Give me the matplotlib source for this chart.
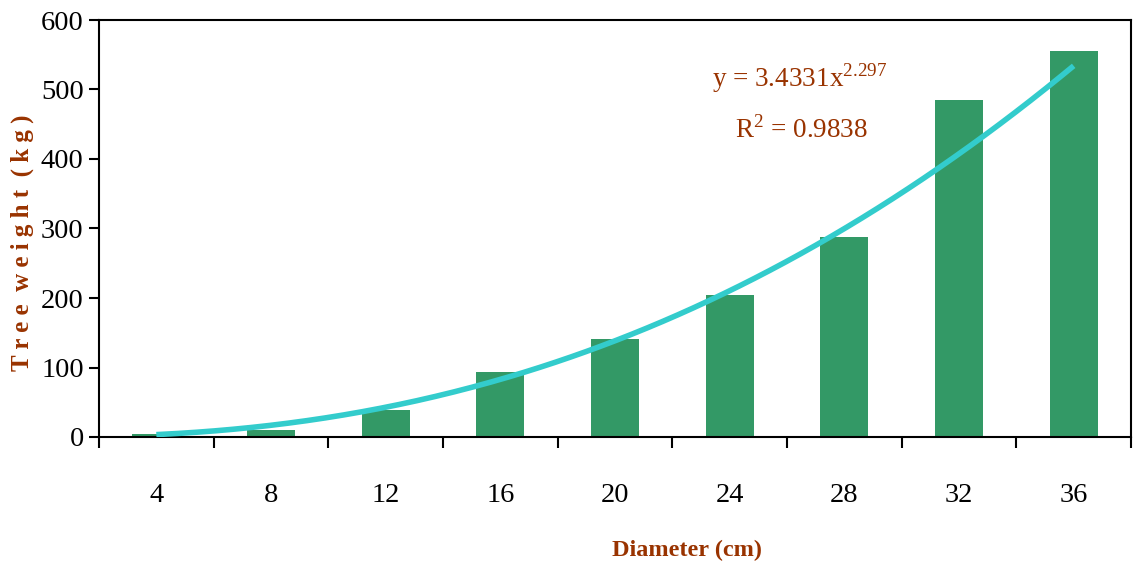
import numpy as np
import matplotlib
matplotlib.use("Agg")
import matplotlib.pyplot as plt
from matplotlib.ticker import FixedLocator

# Data
diameters = ["4", "8", "12", "16", "20", "24", "28", "32", "36"]
weights = [4, 10, 39, 93, 141, 204, 288, 485, 555]
# Power trendline parameters shown on chart
coef_a = 3.4331
coef_b = 2.297
eq_text = r"y = 3.4331x$^{2.297}$"
r2_text = r"R$^2$ = 0.9838"

plt.rcParams['font.family'] = ['Liberation Serif', 'DejaVu Serif']
plt.rcParams['mathtext.fontset'] = 'custom'
plt.rcParams['mathtext.rm'] = 'Liberation Serif'

brown = "#993300"
green = "#339966"
cyan = "#33CCCC"

fig = plt.figure(figsize=(11.33, 5.69), dpi=100)
ax = fig.add_axes([99/1133, 1-437/569, (1131-99)/1133, (437-20)/569])

pos = np.arange(len(diameters))
ax.bar(pos, weights, width=0.42, color=green, zorder=2)

xs = np.linspace(1, len(diameters), 300)
ax.plot(xs - 1, coef_a * xs ** coef_b, color=cyan, lw=4, solid_capstyle='butt', zorder=3)

ax.set_xlim(-0.5, len(diameters) - 0.5)
ax.set_ylim(0, 600)
ax.set_yticks(np.arange(0, 601, 100))
ax.set_xticks(pos)
ax.set_xticklabels(diameters)
ax.xaxis.set_minor_locator(FixedLocator(np.arange(-0.5, len(diameters), 1.0)))
ax.tick_params(axis='x', which='major', length=0, pad=33, labelsize=20.5)
ax.tick_params(axis='x', which='minor', length=8, width=1.5, direction='out')
ax.tick_params(axis='y', length=7, width=1.5, direction='out', labelsize=20.5, pad=4)

for s in ax.spines.values():
    s.set_linewidth(1.5)

fig.text(22/1133, 1-243/569, "T r e e  w e i g h t  ( k g )", rotation=90,
         color=brown, fontsize=18, fontweight='bold', ha='center', va='center')
fig.text(687/1133, 1-550/569, "Diameter (cm)", color=brown, fontsize=17.5,
         fontweight='bold', ha='center', va='center')

fig.text(800/1133, 1-78/569, eq_text, color=brown, fontsize=19.5, ha='center', va='center')
fig.text(801/1133, 1-130/569, r2_text, color=brown, fontsize=19.5, ha='center', va='center')

fig.savefig("out.png", dpi=100)
